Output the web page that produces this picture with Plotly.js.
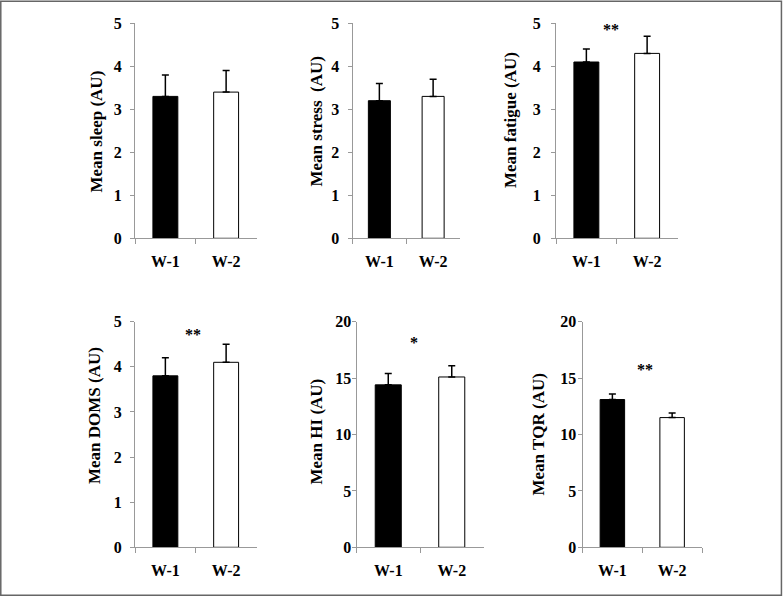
<!DOCTYPE html>
<html>
<head>
<meta charset="utf-8">
<script src="https://cdn.plot.ly/plotly-3.0.1.min.js"></script>
<style>html,body{margin:0;padding:0;background:#fff;}#chart{width:783px;height:597px;}</style>
</head>
<body>
<div id="chart"></div>
<script>
// ---- data ----
const categories = ['W-1', 'W-2'];
const yTitles = ['Mean sleep (AU)', 'Mean stress  (AU)', 'Mean fatigue (AU)', 'Mean DOMS (AU)', 'Mean HI (AU)', 'Mean TQR (AU)'];
const sleepMean = [3.3, 3.4];
const sleepErr = [0.5, 0.5];
const stressMean = [3.2, 3.3];
const stressErr = [0.4, 0.4];
const fatigueMean = [4.1, 4.3];
const fatigueErr = [0.3, 0.4];
const domsMean = [3.8, 4.1];
const domsErr = [0.4, 0.4];
const hiMean = [14.4, 15.1];
const hiErr = [1.0, 1.0];
const tqrMean = [13.1, 11.5];
const tqrErr = [0.5, 0.4];
const yMax = [5, 5, 5, 5, 20, 20];
const yStep = [1, 1, 1, 1, 5, 5];
const sigLabels = ['', '', '**', '**', '*', '**'];
const sigX = [0, 0, 0.41, 0.45, 0.40, 0.55];
const sigY = [0, 0, 4.86, 4.72, 18.2, 15.8];

const means = [sleepMean, stressMean, fatigueMean, domsMean, hiMean, tqrMean];
const errs = [sleepErr, stressErr, fatigueErr, domsErr, hiErr, tqrErr];

// ---- layout geometry (pixels) ----
const W = 783, H = 597;
const xPix = [[135, 256.5], [352.5, 460], [556, 677.5], [135, 256.5], [356.5, 483.5], [582.5, 702]];
const yPix = [[23.3, 238.3], [23.3, 238.3], [23.3, 238.3], [321.7, 547.3], [321.7, 547.3], [321.7, 547.3]];
const titlePos = [[96, 131.5], [316, 121.5], [511, 120], [94, 416], [316, 431.5], [538, 434.5]];
const labelStand = [5, 5, 7, 5, -3, -2];

const font = 'Liberation Serif, Times New Roman, serif';
const traces = [];
const layout = {
  width: W, height: H,
  margin: {l: 0, r: 0, t: 0, b: 0},
  paper_bgcolor: '#fff', plot_bgcolor: 'rgba(0,0,0,0)',
  showlegend: false,
  font: {family: font, size: 16, color: '#000'},
  annotations: [],
  shapes: [{type: 'rect', xref: 'paper', yref: 'paper', x0: 0.001, x1: 0.998, y0: 0.003, y1: 0.998,
            line: {color: '#666', width: 1.5}}]
};

for (let i = 0; i < 6; i++) {
  const n = i === 0 ? '' : String(i + 1);
  traces.push({
    type: 'bar', x: categories, y: means[i],
    xaxis: 'x' + n, yaxis: 'y' + n,
    width: 0.41,
    marker: {color: ['#000', '#fff'], line: {color: '#000', width: 1}},
    error_y: {type: 'data', symmetric: false, array: errs[i], arrayminus: [0, 0],
              color: '#000', thickness: 1.5, width: 3.5},
    hoverinfo: 'skip'
  });
  layout['xaxis' + n] = {
    domain: [xPix[i][0] / W, xPix[i][1] / W],
    anchor: 'y' + n,
    type: 'category', range: [-0.5, 1.5],
    showline: true, linecolor: '#999', linewidth: 1,
    ticks: 'outside', tickson: 'boundaries', ticklen: 5, tickcolor: '#999',
    showgrid: false, zeroline: false, fixedrange: true,
    tickfont: {family: font, size: 16, color: '#000', weight: 'bold'},
    ticklabelstandoff: 8
  };
  layout['yaxis' + n] = {
    domain: [1 - yPix[i][1] / H, 1 - yPix[i][0] / H],
    anchor: 'x' + n,
    range: [0, yMax[i]], dtick: yStep[i], tick0: 0,
    showline: true, linecolor: '#999', linewidth: 1,
    ticks: 'outside', ticklen: 4, tickcolor: '#999',
    showgrid: false, zeroline: false, fixedrange: true,
    tickfont: {family: font, size: 16, color: '#000', weight: 'bold'},
    ticklabelstandoff: labelStand[i]
  };
  layout.annotations.push({
    xref: 'paper', yref: 'paper', x: titlePos[i][0] / W, y: 1 - titlePos[i][1] / H,
    xanchor: 'center', yanchor: 'middle', textangle: -90,
    text: yTitles[i].replace(/  /g, '&nbsp; '), showarrow: false,
    font: {family: font, size: 17, color: '#000', weight: 'bold'}
  });
  if (sigLabels[i]) {
    layout.annotations.push({
      xref: 'x' + n, yref: 'y' + n, x: sigX[i], y: sigY[i],
      text: sigLabels[i], showarrow: false,
      font: {family: font, size: 16, color: '#000', weight: 'bold'}
    });
  }
}

Plotly.newPlot('chart', traces, layout, {displayModeBar: false, staticPlot: true});
</script>
</body>
</html>
